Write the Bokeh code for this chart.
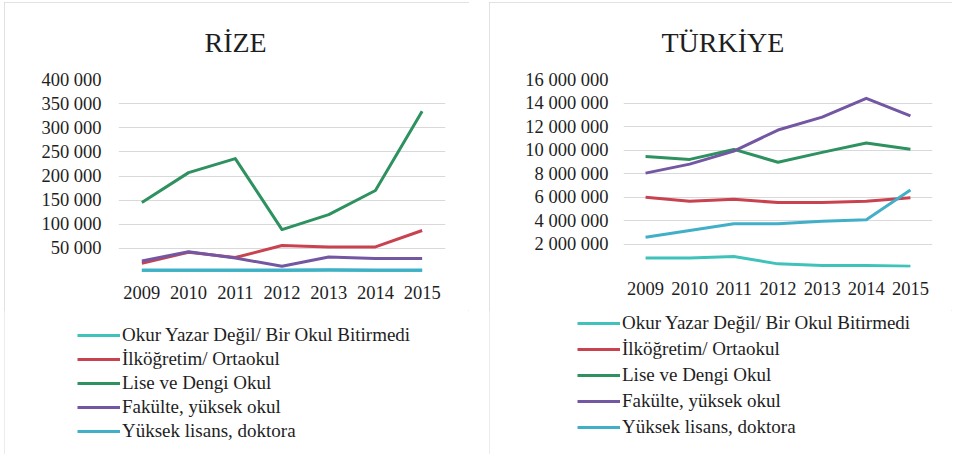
from bokeh.plotting import figure
from bokeh.models import FactorRange, Range1d, FixedTicker, Legend, LegendItem
from bokeh.layouts import row, column
from bokeh.embed import file_html
from bokeh.resources import INLINE

# ---------------- data ----------------
years = ["2009", "2010", "2011", "2012", "2013", "2014", "2015"]
series_names = [
    "Okur Yazar Değil/ Bir Okul Bitirmedi",
    "İlköğretim/ Ortaokul",
    "Lise ve Dengi Okul",
    "Fakülte, yüksek okul",
    "Yüksek lisans, doktora",
]
series_colors = ["#3fc2ba", "#c8434f", "#2e9160", "#7457a2", "#42afc9"]

rize_okur = [4000, 4000, 4000, 4000, 4500, 4000, 4000]
rize_ilk = [19000, 42000, 31000, 56000, 53000, 53000, 87000]
rize_lise = [145000, 207000, 236000, 89000, 120000, 170000, 334000]
rize_fak = [24000, 43000, 30000, 13000, 32000, 29000, 29000]
rize_yuk = [5000, 5000, 5000, 5000, 5500, 5000, 5000]

tr_okur = [800000, 800000, 940000, 310000, 170000, 170000, 110000]
tr_ilk = [5980000, 5640000, 5800000, 5530000, 5530000, 5640000, 5930000]
tr_lise = [9450000, 9200000, 10050000, 8960000, 9800000, 10600000, 10070000]
tr_fak = [8030000, 8800000, 9900000, 11700000, 12800000, 14400000, 12900000]
tr_yuk = [2580000, 3150000, 3720000, 3720000, 3940000, 4060000, 6600000]

rize_ticks = [0, 50000, 100000, 150000, 200000, 250000, 300000, 350000, 400000]
rize_tick_labels = ["", "50 000", "100 000", "150 000", "200 000", "250 000",
                    "300 000", "350 000", "400 000"]
tr_ticks = [0, 2000000, 4000000, 6000000, 8000000, 10000000, 12000000, 14000000, 16000000]
tr_tick_labels = ["", "2 000 000", "4 000 000", "6 000 000", "8 000 000", "10 000 000",
                  "12 000 000", "14 000 000", "16 000 000"]

FONT = "Liberation Serif"
TEXT = "#1e1e1e"
GRID = "#d9d9d9"
CHART_H = 308
LEGEND_H = 144


def make_panel(title, values, ticks, tick_labels, width,
               left, frame_w, top, frame_h, ylabel_standoff, xlabel_standoff,
               title_offset, legend_loc, row_h):
    p = figure(
        width=width, height=CHART_H,
        x_range=FactorRange(*years),
        y_range=Range1d(ticks[0], ticks[-1]),
        output_backend="svg", toolbar_location=None,
        min_border_left=left, min_border_right=width - left - frame_w,
        min_border_top=top, min_border_bottom=CHART_H - top - frame_h,
    )
    p.outline_line_color = None
    p.background_fill_color = "white"
    p.border_fill_color = "white"

    p.title.text = title
    p.title.align = "left"
    p.title.offset = title_offset
    p.title.standoff = 43
    p.title.text_font = FONT
    p.title.text_font_size = "28px"
    p.title.text_font_style = "normal"
    p.title.text_color = TEXT

    p.xgrid.grid_line_color = None
    p.ygrid.grid_line_color = GRID
    p.ygrid.grid_line_width = 1

    p.yaxis.ticker = FixedTicker(ticks=ticks)
    p.yaxis.major_label_overrides = {t: lab for t, lab in zip(ticks, tick_labels)}
    for ax in (p.xaxis[0], p.yaxis[0]):
        ax.axis_line_color = None
        ax.major_tick_line_color = None
        ax.minor_tick_line_color = None
        ax.major_tick_out = 0
        ax.major_tick_in = 0
        ax.major_label_text_font = FONT
        ax.major_label_text_font_size = "18.5px"
        ax.major_label_text_color = TEXT
    p.yaxis.major_label_standoff = ylabel_standoff
    p.xaxis.major_label_standoff = xlabel_standoff

    for color, vals in zip(series_colors, values):
        p.line(years, vals, line_color=color, line_width=3, line_join="round")

    # legend strip under the chart (series lines kept outside its visible y range)
    lg = figure(
        width=width, height=LEGEND_H,
        x_range=FactorRange(*years), y_range=Range1d(-2 * ticks[-1], -ticks[-1]),
        x_axis_location=None, y_axis_location=None,
        output_backend="svg", toolbar_location=None,
        min_border=0,
    )
    lg.outline_line_color = None
    lg.grid.visible = False
    lg.background_fill_color = "white"
    lg.border_fill_color = "white"
    items = []
    for name, color, vals in zip(series_names, series_colors, values):
        r = lg.line(years, vals, line_color=color, line_width=3)
        items.append(LegendItem(label=name, renderers=[r]))
    legend = Legend(
        items=items, location=legend_loc,
        label_text_font=FONT, label_text_font_size="19px", label_text_color=TEXT,
        glyph_width=43, glyph_height=row_h, label_height=row_h, spacing=0,
        label_standoff=2, padding=0, margin=0,
        border_line_color=None, background_fill_alpha=0,
    )
    lg.add_layout(legend, "center")

    return column(p, row(lg), spacing=0,
                  styles={"outline": "1px solid #d9d9d9", "outline-offset": "-1px"})


c1 = make_panel(
    "RİZE", [rize_okur, rize_ilk, rize_lise, rize_fak, rize_yuk],
    rize_ticks, rize_tick_labels, 465,
    left=114, frame_w=327, top=77, frame_h=193,
    ylabel_standoff=17, xlabel_standoff=13,
    title_offset=86, legend_loc=(73, 11), row_h=24,
)
c2 = make_panel(
    "TÜRKİYE", [tr_okur, tr_ilk, tr_lise, tr_fak, tr_yuk],
    tr_ticks, tr_tick_labels, 463,
    left=134, frame_w=309, top=77, frame_h=188,
    ylabel_standoff=15, xlabel_standoff=14,
    title_offset=38, legend_loc=(88, 14), row_h=26,
)

layout = row(c1, c2, spacing=20)
layout.margin = (2, 0, 0, 4)
open("out.html", "w").write(file_html(layout, INLINE))
